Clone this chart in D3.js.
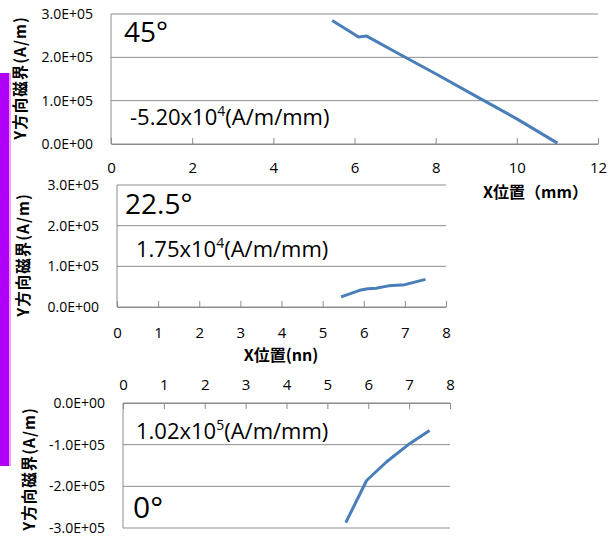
<!DOCTYPE html>
<html>
<head>
<meta charset="utf-8">
<script src="https://cdn.jsdelivr.net/npm/d3@7"></script>
<style>
  body { margin: 0; background: #fff; }
  svg { display: block; font-family: "Open Sans", "Noto Sans", sans-serif; }
  .tick text { fill: #000; }
</style>
</head>
<body>
<svg id="chart" width="614" height="538"></svg>
<script>
// 45 deg panel
const x45 = [5.45, 6.1, 6.3, 7, 8, 9, 10, 11];
const y45 = [2.85e5, 2.47e5, 2.49e5, 2.13e5, 1.62e5, 1.10e5, 0.58e5, 0.02e5];
// 22.5 deg panel
const x225 = [5.45, 5.9, 6.1, 6.3, 6.6, 7, 7.5];
const y225 = [0.25e5, 0.41e5, 0.45e5, 0.46e5, 0.52e5, 0.55e5, 0.68e5];
// 0 deg panel
const x0 = [5.45, 5.96, 6.45, 7.02, 7.5];
const y0 = [-2.87e5, -1.86e5, -1.41e5, -0.97e5, -0.66e5];

const xTicks45 = [0, 2, 4, 6, 8, 10, 12];
const xTicks8 = [0, 1, 2, 3, 4, 5, 6, 7, 8];
const yTicksPos = [0, 1e5, 2e5, 3e5];
const yTicksNeg = [0, -1e5, -2e5, -3e5];

const yTitle = 'Y方向磁界(A/m)';

const lineColor = '#4a7ebb';
const gridColor = '#8c8c8c';

const svg = d3.select('#chart');

// purple side bar
svg.append('rect').attr('x', 0).attr('y', 73).attr('width', 11).attr('height', 393).attr('fill', '#f0a0f8');
svg.append('rect').attr('x', 0).attr('y', 73).attr('width', 9).attr('height', 393).attr('fill', '#b000f8');

function sci(d) {
  if (d === 0) return '0.0E+00';
  const e = Math.floor(Math.log10(Math.abs(d)));
  const m = d / Math.pow(10, e);
  return m.toFixed(1) + 'E+' + String(e).padStart(2, '0');
}

function drawPanel(p) {
  const g = svg.append('g');
  const x = d3.scaleLinear().domain(p.xDomain).range([p.left, p.right]);
  const y = d3.scaleLinear().domain(p.yDomain).range([p.bottom, p.top]);

  // gridlines
  g.selectAll('line.grid')
    .data(p.yTicks)
    .enter()
    .append('line')
    .attr('x1', p.left).attr('x2', p.right)
    .attr('y1', d => y(d)).attr('y2', d => y(d))
    .attr('stroke', gridColor).attr('stroke-width', 1);

  // y axis line
  g.append('line')
    .attr('x1', p.left).attr('x2', p.left)
    .attr('y1', p.top).attr('y2', p.bottom)
    .attr('stroke', gridColor);

  // y tick labels
  g.selectAll('text.ylab')
    .data(p.yTicks)
    .enter()
    .append('text')
    .attr('x', p.left - 18)
    .attr('y', d => y(d) + 5)
    .attr('text-anchor', 'end')
    .attr('font-size', 14)
    .text(d => sci(d));

  // x axis (ticks inside)
  const axisY = p.xAxisTop ? p.top : p.bottom;
  const xAxis = (p.xAxisTop ? d3.axisTop(x) : d3.axisBottom(x))
    .tickValues(p.xTicks)
    .tickSizeInner(-6)
    .tickSizeOuter(0)
    .tickPadding(p.tickPad)
    .tickFormat(d3.format('d'));
  const ax = g.append('g').attr('transform', `translate(0,${axisY})`).call(xAxis);
  ax.select('.domain').attr('stroke', gridColor);
  ax.selectAll('.tick line').attr('stroke', gridColor);
  ax.selectAll('.tick text').attr('font-size', 15).attr('font-family', '"Open Sans", sans-serif');

  // data line
  const pts = p.xs.map((v, i) => [v, p.ys[i]]);
  g.append('path')
    .datum(pts)
    .attr('fill', 'none')
    .attr('stroke', lineColor)
    .attr('stroke-width', 3)
    .attr('stroke-linejoin', 'round')
    .attr('d', d3.line().x(d => x(d[0])).y(d => y(d[1])));

  // y axis title
  g.append('text')
    .attr('transform', `translate(${p.titleX},${p.titleY}) rotate(-90)`)
    .attr('text-anchor', 'middle')
    .attr('font-family', '"Noto Sans CJK JP", sans-serif')
    .attr('font-weight', 'bold')
    .attr('font-size', 15.5)
    .attr('letter-spacing', 1)
    .text(yTitle);

  // angle label
  g.append('text')
    .attr('x', p.angle.x).attr('y', p.angle.y)
    .attr('font-size', p.angle.size)
    .text(p.angle.text);

  // gradient label
  const t = g.append('text')
    .attr('x', p.grad.x).attr('y', p.grad.y)
    .attr('font-size', 22);
  t.append('tspan').text(p.grad.base);
  t.append('tspan').attr('dy', -9).attr('font-size', 14).text(p.grad.exp);
  t.append('tspan').attr('dy', 9).text('(A/m/mm)');

  if (p.xTitle) {
    g.append('text')
      .attr('x', p.xTitle.x).attr('y', p.xTitle.y)
      .attr('text-anchor', p.xTitle.anchor)
      .attr('font-family', '"Noto Sans CJK JP", sans-serif')
      .attr('font-weight', 'bold')
      .attr('font-size', 16)
      .text(p.xTitle.text);
  }
}

drawPanel({
  xs: x45, ys: y45, xDomain: [0, 12], yDomain: [0, 3e5],
  xTicks: xTicks45, yTicks: yTicksPos, tickPad: 18.5,
  left: 111, right: 598, top: 14, bottom: 144,
  titleX: 26, titleY: 78,
  angle: { x: 124, y: 42, text: '45°', size: 28 },
  grad: { x: 130, y: 125, base: '-5.20x10', exp: '4' },
  xTitle: { x: 483, y: 198, anchor: 'start', text: 'X位置（mm）' }
});

drawPanel({
  xs: x225, ys: y225, xDomain: [0, 8], yDomain: [0, 3e5],
  xTicks: xTicks8, yTicks: yTicksPos, tickPad: 20.5,
  left: 117, right: 446, top: 185, bottom: 307,
  titleX: 29, titleY: 255,
  angle: { x: 125, y: 214, text: '22.5°', size: 28 },
  grad: { x: 136, y: 257, base: '1.75x10', exp: '4' },
  xTitle: { x: 281, y: 361, anchor: 'middle', text: 'X位置(nn)' }
});

drawPanel({
  xs: x0, ys: y0, xDomain: [0, 8], yDomain: [-3e5, 0],
  xTicks: xTicks8, yTicks: yTicksNeg, xAxisTop: true, tickPad: 13.5,
  left: 123, right: 450, top: 403, bottom: 528,
  titleX: 35, titleY: 469,
  angle: { x: 133, y: 518, text: '0°', size: 30 },
  grad: { x: 136, y: 439, base: '1.02x10', exp: '5' }
});
</script>
</body>
</html>
